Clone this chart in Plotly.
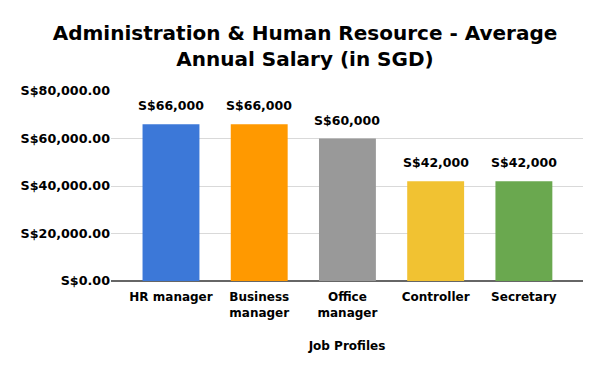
import plotly.graph_objects as go

categories = ["HR manager", "Business<br>manager", "Office<br>manager", "Controller", "Secretary"]
salaries = [66000, 66000, 60000, 42000, 42000]
value_labels = ["S$66,000", "S$66,000", "S$60,000", "S$42,000", "S$42,000"]
colors = ["#3c78d8", "#ff9900", "#999999", "#f1c232", "#6aa84f"]
y_ticks = [0, 20000, 40000, 60000, 80000]

FONT = "DejaVu Sans"

fig = go.Figure()
fig.add_trace(go.Bar(
    x=list(range(len(categories))),
    y=salaries,
    marker=dict(color=colors, line=dict(width=0)),
    width=0.645,
    hoverinfo="skip",
))

for i, (v, lab) in enumerate(zip(salaries, value_labels)):
    fig.add_annotation(x=i, y=v, text="<b>%s</b>" % lab, showarrow=False,
                       yanchor="bottom", yshift=9,
                       font=dict(family=FONT, size=12.5, color="#000000"))

fig.update_layout(
    width=594, height=364,
    margin=dict(l=103, r=19, t=83, b=91),
    paper_bgcolor="white", plot_bgcolor="white",
    showlegend=False,
    title=dict(text="<b>Administration & Human Resource - Average<br>Annual Salary (in SGD)</b>",
               x=0.5, xanchor="center", y=0.912, yanchor="top",
               font=dict(family=FONT, size=20, color="#000000")),
    font=dict(family=FONT, size=12, color="#000000"),
    xaxis=dict(
        tickmode="array",
        tickvals=list(range(len(categories))),
        ticktext=["<b>%s</b>" % c for c in categories],
        range=[-0.68, 4.67],
        automargin=False,
        showgrid=False, zeroline=False, showline=False,
        ticks="", ticklabelstandoff=7,
        tickfont=dict(family=FONT, size=12, color="#000000"),
        title=dict(text="<b>Job Profiles</b>", standoff=23,
                   font=dict(family=FONT, size=12, color="#000000")),
    ),
    yaxis=dict(
        range=[0, 80000],
        tickmode="array",
        tickvals=y_ticks,
        ticktext=["<b>S$%s</b>" % format(t, ",.2f") for t in y_ticks],
        automargin=False,
        showgrid=True, gridcolor="#d9d9d9", gridwidth=1,
        zeroline=True, zerolinecolor="#666666", zerolinewidth=1.5,
        showline=False, ticks="",
        tickfont=dict(family=FONT, size=12.7, color="#000000"),
    ),
)

fig.write_html("out.html")
